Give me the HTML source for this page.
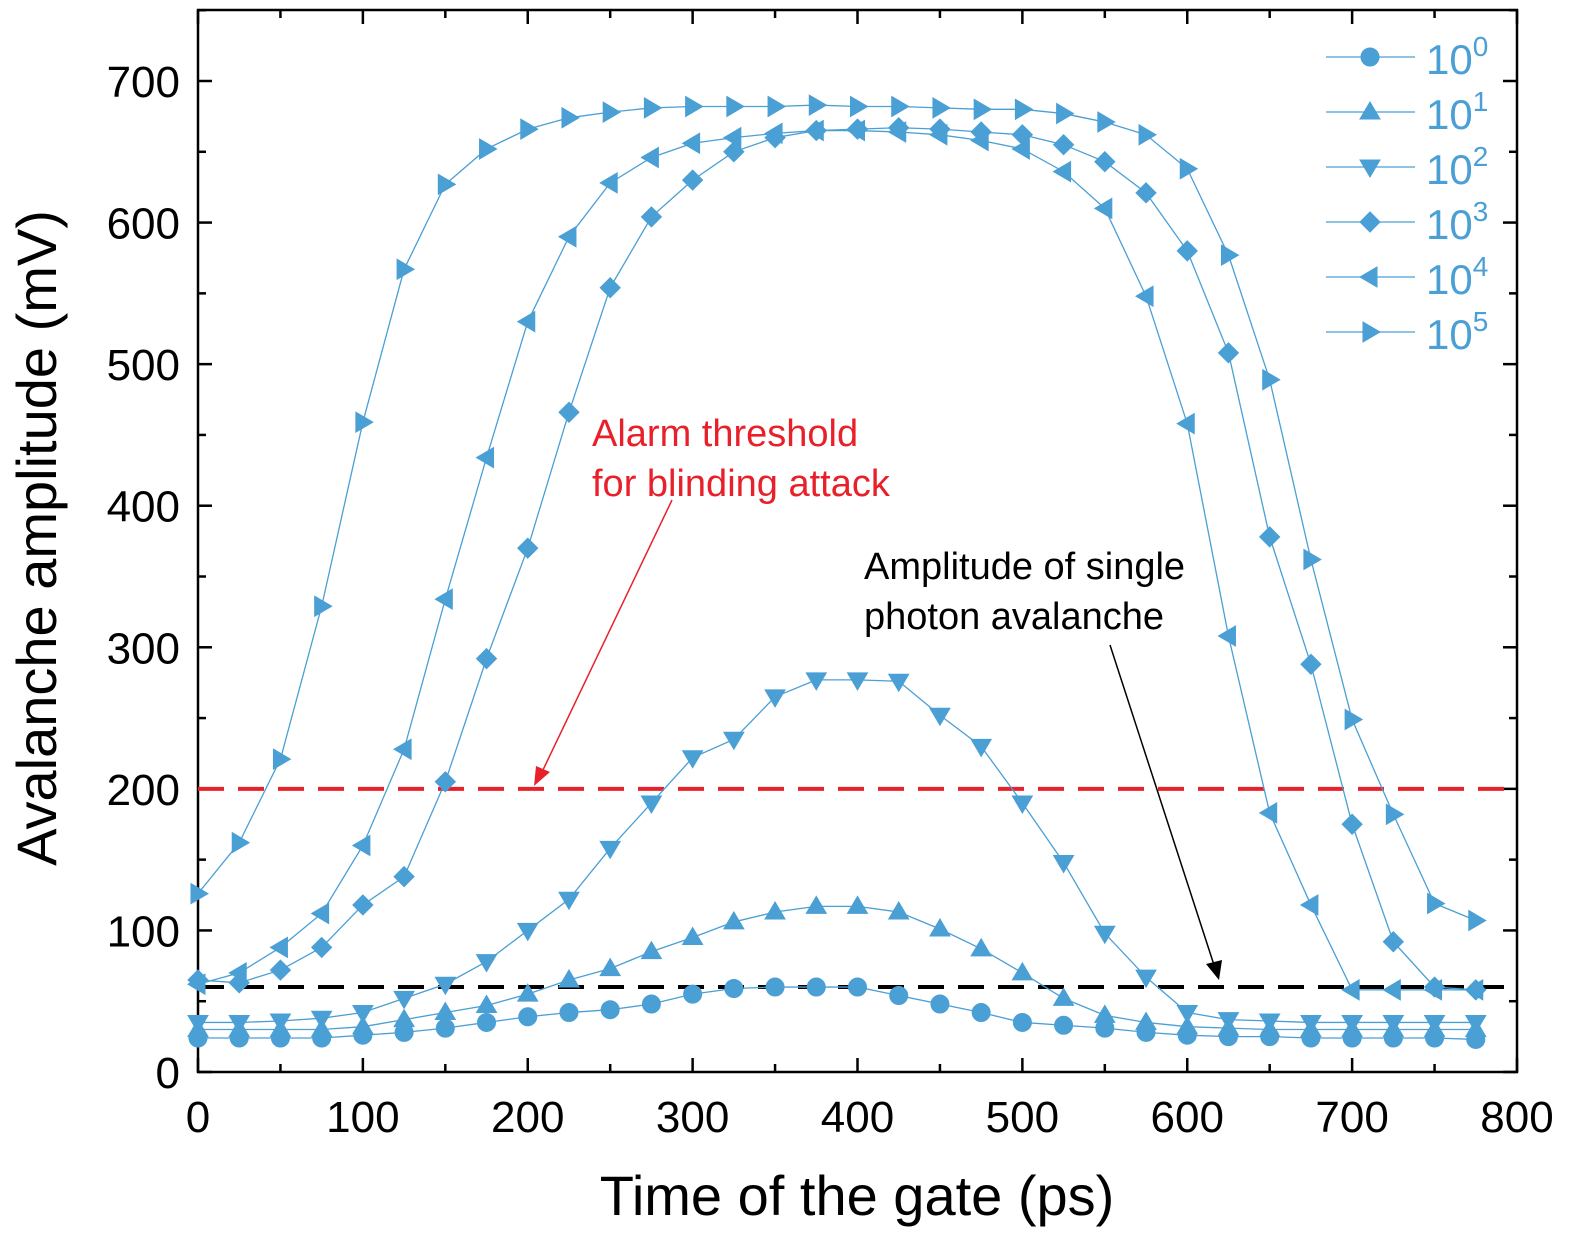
<!DOCTYPE html>
<html><head><meta charset="utf-8"><style>
html,body{margin:0;padding:0;background:#fff}
svg text{font-family:"Liberation Sans",Arial,sans-serif}
</style></head><body>
<svg id="chart" width="1575" height="1251" xmlns="http://www.w3.org/2000/svg"></svg>
<script>
const xValues=[0,25,50,75,100,125,150,175,200,225,250,275,300,325,350,375,400,425,450,475,500,525,550,575,600,625,650,675,700,725,750,775];
const s0=[24,24,24,24,26,28,31,35,39,42,44,48,55,59,60,60,60,54,48,42,35,33,31,28,26,25,25,24,24,24,24,23];
const s1=[30,30,30,30,32,37,42,47,55,65,73,85,95,106,113,117,117,113,101,87,70,52,40,35,32,31,30,30,30,30,30,30];
const s2=[35,35,36,38,42,52,62,78,100,122,158,190,222,235,265,277,277,276,252,230,190,148,98,67,42,37,36,35,35,35,35,35];
const s3=[65,63,72,88,118,138,205,292,370,466,554,604,630,650,660,665,666,667,666,664,662,655,643,621,580,508,378,288,175,92,60,58];
const s4=[62,70,88,112,160,228,334,434,530,590,628,646,656,660,663,665,665,664,662,658,652,636,610,548,458,308,183,118,58,58,58,58];
const s5=[126,162,221,329,459,567,627,652,666,674,678,681,682,682,682,683,682,682,681,680,680,677,671,662,638,577,489,362,249,182,119,107];
const seriesNames=["10^0","10^1","10^2","10^3","10^4","10^5"];
const markers=["circle","up","down","diamond","left","right"];
const xTicks=[0,100,200,300,400,500,600,700,800];
const yTicks=[0,100,200,300,400,500,600,700];
const alarmLevel=200, singleLevel=60;

const L=198,R=1517,T=10,B=1072;
const X=v=>L+(v/800)*(R-L);
const Y=v=>B-v*(B-81)/700;
const svg=document.getElementById('chart');
const NS='http://www.w3.org/2000/svg';
const C='#4a9fd5';
function el(tag,attrs,parent){const e=document.createElementNS(NS,tag);for(const k in attrs)e.setAttribute(k,attrs[k]);(parent||svg).appendChild(e);return e;}

const frame=el('rect',{x:L,y:T,width:R-L,height:B-T,fill:'none',stroke:'#000','stroke-width':2.5});



const tg=el('g',{stroke:'#000','stroke-width':2.5});


for(let v=0;v<=800;v+=50){const x=X(v),len=v%100===0?14:8;
 el('line',{x1:x,y1:B,x2:x,y2:B-len},tg);el('line',{x1:x,y1:T,x2:x,y2:T+len},tg);}
for(let v=0;v<=750;v+=50){const y=Y(v);if(y<T)continue;const len=v%100===0?14:8;
 el('line',{x1:L,y1:y,x2:L+len,y2:y},tg);el('line',{x1:R,y1:y,x2:R-len,y2:y},tg);}
xTicks.forEach(v=>{const t=el('text',{x:X(v),y:B+60,'font-size':44,'text-anchor':'middle'});t.textContent=v;
 
 });
yTicks.forEach(v=>{const t=el('text',{x:L-18,y:Y(v)+16,'font-size':44,'text-anchor':'end'});t.textContent=v;
 
 });
const xt=el('text',{x:857,y:1215,'font-size':56,'text-anchor':'middle'});xt.textContent='Time of the gate (ps)';


const yt=el('text',{x:0,y:0,'font-size':56,'text-anchor':'middle',transform:'translate(56,538) rotate(-90)'});yt.textContent='Avalanche amplitude (mV)';



const rl=el('line',{x1:L,y1:Y(alarmLevel),x2:R,y2:Y(alarmLevel),stroke:'#e8202a','stroke-width':4,'stroke-dasharray':'26,14'});


const bl=el('line',{x1:L,y1:Y(singleLevel),x2:R,y2:Y(singleLevel),stroke:'#000','stroke-width':4,'stroke-dasharray':'26,14'});



function marker(type,x,y,g){const r=9;
 if(type==='circle')return el('circle',{cx:x,cy:y,r:r},g);
 let p;
 if(type==='up')p=[[x,y-r-1],[x-r-1,y+r-2],[x+r+1,y+r-2]];
 if(type==='down')p=[[x,y+r+1],[x-r-1,y-r+2],[x+r+1,y-r+2]];
 if(type==='diamond')p=[[x,y-r-1],[x+r+1,y],[x,y+r+1],[x-r-1,y]];
 if(type==='left')p=[[x-r-1,y],[x+r-2,y-r-1],[x+r-2,y+r+1]];
 if(type==='right')p=[[x+r+1,y],[x-r+2,y-r-1],[x-r+2,y+r+1]];
 return el('polygon',{points:p.map(q=>q.join(',')).join(' ')},g);}

[s0,s1,s2,s3,s4,s5].forEach((s,i)=>{
 const g=el('g',{fill:C,stroke:C});
 
 
 el('polyline',{points:s.map((v,j)=>X(xValues[j])+','+Y(v)).join(' '),fill:'none','stroke-width':1.3},g);
 s.forEach((v,j)=>{const m=marker(markers[i],X(xValues[j]),Y(v),g);
  
  });
});

const lg=el('g',{fill:C,stroke:C});


seriesNames.forEach((n,i)=>{const y=57+i*55;
 el('line',{x1:1326,y1:y,x2:1415,y2:y,'stroke-width':1.3},lg);
 marker(markers[i],1370,y,lg);
 const t=el('text',{x:1426,y:y+17,'font-size':42,stroke:'none'},lg);
 t.innerHTML='10<tspan dy="-18" font-size="28">'+i+'</tspan>';
 
 });

const a1=el('text',{x:592,y:446,'font-size':38,fill:'#e8202a'});a1.innerHTML='<tspan x="592">Alarm threshold</tspan><tspan x="592" dy="50">for blinding attack</tspan>';


const ra=el('line',{x1:672,y1:500,x2:542,y2:772,stroke:'#e8202a','stroke-width':1.5});


el('polygon',{points:'534,786 536,766 550,772',fill:'#e8202a'});
const a2=el('text',{x:864,y:579,'font-size':38,fill:'#000'});a2.innerHTML='<tspan x="864">Amplitude of single</tspan><tspan x="864" dy="50">photon avalanche</tspan>';


const ba=el('line',{x1:1110,y1:645,x2:1214,y2:965,stroke:'#000','stroke-width':1.5});


el('polygon',{points:'1219,980 1206,964 1222,960',fill:'#000'});
</script>
</body></html>
